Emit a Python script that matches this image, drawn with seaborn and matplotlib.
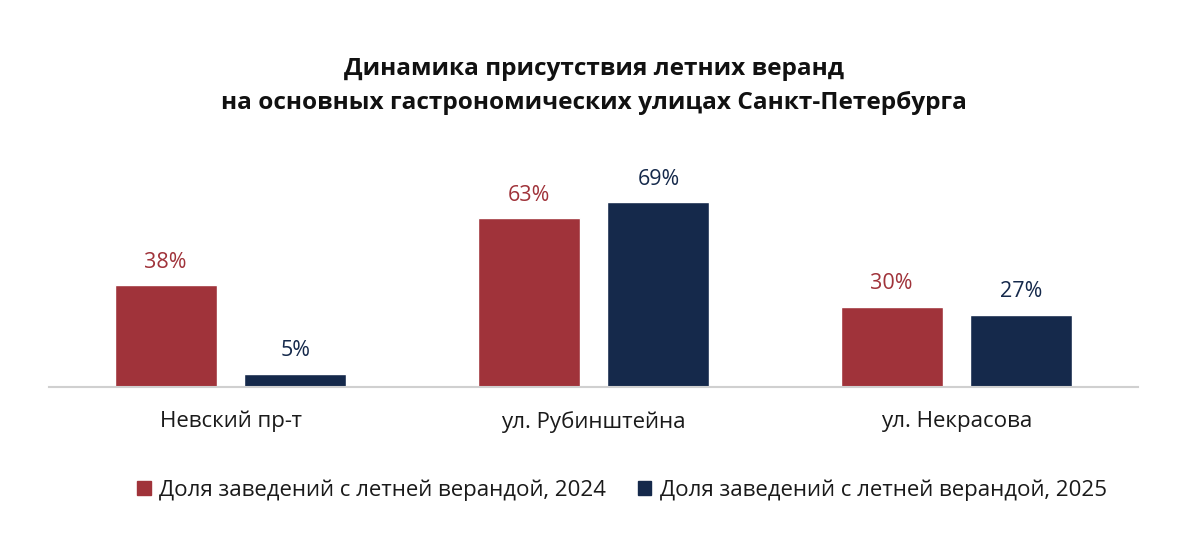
import os
import pandas as pd
import matplotlib.pyplot as plt
from matplotlib import font_manager as fm
import seaborn as sns

# data
streets = ["Невский пр-т", "ул. Рубинштейна", "ул. Некрасова"]
share_2024 = [38, 63, 30]
share_2025 = [5, 69, 27]
series_names = ["Доля заведений с летней верандой, 2024",
                "Доля заведений с летней верандой, 2025"]

title = ("Динамика присутствия летних веранд\n"
         "на основных гастрономических улицах Санкт-Петербурга")

red = "#A0333A"
navy = "#15294B"

df = pd.DataFrame({
    "street": streets * 2,
    "share": share_2024 + share_2025,
    "series": [series_names[0]] * 3 + [series_names[1]] * 3,
})

sns.set_theme(style="white")
plt.rcParams["font.family"] = ["Open Sans", "DejaVu Sans"]

# the variable Open Sans file renders condensed, so point at the static files
font_dir = "/usr/share/fonts/truetype/open-sans/"


def font(size, bold=False):
    path = font_dir + ("OpenSans-Bold.ttf" if bold else "OpenSans-Regular.ttf")
    if os.path.exists(path):
        return fm.FontProperties(fname=path, size=size)
    return fm.FontProperties(family="DejaVu Sans", size=size,
                             weight="bold" if bold else "normal")


fig = plt.figure(figsize=(12, 5.42), dpi=100)
ax = fig.add_axes([49 / 1200, 1 - 387 / 542, 1089 / 1200, 247 / 542])

sns.barplot(data=df, x="street", y="share", hue="series",
            palette=[red, navy], width=0.716, gap=0.215,
            saturation=1, legend=False, ax=ax)

for cont, col in zip(ax.containers, [red, navy]):
    texts = ax.bar_label(cont, labels=[f"{v:.0f}%" for v in cont.datavalues],
                         padding=9, color=col)
    for t in texts:
        t.set_fontproperties(font(15.5))

ax.set_xlim(-0.5, 2.5)
ax.set_ylim(0, 247 / 2.68)
ax.set_xlabel("")
ax.set_ylabel("")
ax.set_yticks([])
ax.tick_params(axis="x", length=0, pad=17, labelcolor="#1a1a1a")
for lab in ax.get_xticklabels():
    lab.set_fontproperties(font(16))
for side in ["top", "left", "right"]:
    ax.spines[side].set_visible(False)
ax.spines["bottom"].set_color("#D0D0D0")
ax.spines["bottom"].set_linewidth(1.5)

fig.text(0.495, 1 - 86 / 542, title, ha="center", va="center",
         fontproperties=font(17.6, bold=True), color="#111111", linespacing=1.5)

handles = [plt.Rectangle((0, 0), 1, 1, color=c) for c in [red, navy]]
fig.legend(handles, series_names, loc="center", bbox_to_anchor=(622 / 1200, 1 - 490 / 542),
           ncol=2, frameon=False, prop=font(16), handlelength=0.62, handleheight=0.62,
           handletextpad=0.4, columnspacing=1.4, labelcolor="#1a1a1a")

fig.savefig("out.png", dpi=100, facecolor="white")
